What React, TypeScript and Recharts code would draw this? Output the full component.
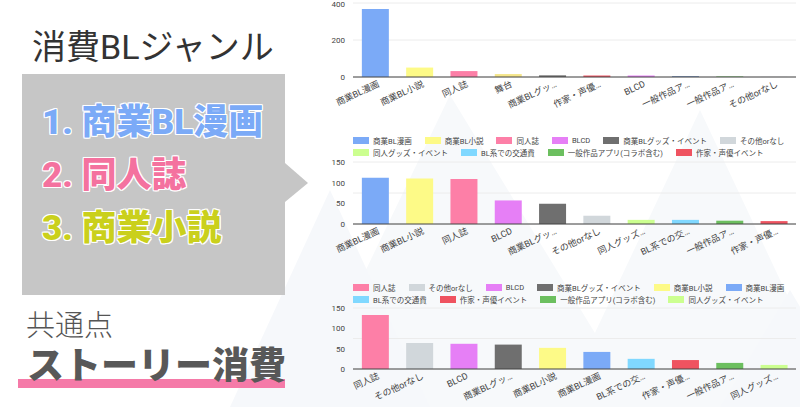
import React from 'react';
import { BarChart, Bar, Cell, XAxis, YAxis, CartesianGrid } from 'recharts';

const FONT = "Roboto, 'Noto Sans CJK JP', sans-serif";

// colours per answer
const colorOf: Record<string, string> = {
  商業BL漫画: '#7baaf7',
  商業BL小説: '#fdfa87',
  同人誌: '#fd7fa7',
  舞台: '#f5e68c',
  BLCD: '#e67ff6',
  商業BLグッズ・イベント: '#6f6f6f',
  その他orなし: '#d1d7db',
  同人グッズ・イベント: '#ccff90',
  BL系での交通費: '#80d8ff',
  '一般作品アプリ(コラボ含む)': '#6cbf5f',
  '一般作品アニメ': '#5b7db4',
  作家・声優イベント: '#ef5360',
};

// chart 1
const keys1 = ['商業BL漫画', '商業BL小説', '同人誌', '舞台', '商業BLグッズ・イベント', '作家・声優イベント', 'BLCD', '一般作品アニメ', '一般作品アプリ(コラボ含む)', 'その他orなし'];
const labels1 = ['商業BL漫画', '商業BL小説', '同人誌', '舞台', '商業BLグッ…', '作家・声優…', 'BLCD', '一般作品ア…', '一般作品ア…', 'その他orなし'];
const values1 = [368, 51, 32, 16, 9, 8, 8, 4, 3, 1];
const ticks1 = [0, 200, 400];
const grid1 = [0, 100, 200, 300, 400];

// chart 2
const keys2 = ['商業BL漫画', '商業BL小説', '同人誌', 'BLCD', '商業BLグッズ・イベント', 'その他orなし', '同人グッズ・イベント', 'BL系での交通費', '一般作品アプリ(コラボ含む)', '作家・声優イベント'];
const labels2 = ['商業BL漫画', '商業BL小説', '同人誌', 'BLCD', '商業BLグッ…', 'その他orなし', '同人グッズ…', 'BL系での交…', '一般作品ア…', '作家・声優…'];
const values2 = [112, 110, 109, 57, 49, 20, 10, 10, 8, 7];

// chart 3
const keys3 = ['同人誌', 'その他orなし', 'BLCD', '商業BLグッズ・イベント', '商業BL小説', '商業BL漫画', 'BL系での交通費', '作家・声優イベント', '一般作品アプリ(コラボ含む)', '同人グッズ・イベント'];
const labels3 = ['同人誌', 'その他orなし', 'BLCD', '商業BLグッ…', '商業BL小説', '商業BL漫画', 'BL系での交…', '作家・声優…', '一般作品ア…', '同人グッズ…'];
const values3 = [133, 64, 62, 60, 52, 42, 25, 22, 15, 10];

const ticks150 = [0, 50, 100, 150];
const grid150 = [0, 25, 50, 75, 100, 125, 150];

const AngledTick = (props: any) => {
  const { x, y, payload } = props;
  return (
    <g transform={`translate(${x + 2},${y})`}>
      <text transform="rotate(-25)" textAnchor="end" dy="0.75em" fontSize={9} fill="#444" fontFamily={FONT}>
        {payload.value}
      </text>
    </g>
  );
};

function SmallBars({ keys, labels, values, ticks, grid, max, top, height, marginTop }: any) {
  const data = labels.map((label: string, i: number) => ({ label, key: keys[i], value: values[i] }));
  return (
    <div style={{ position: 'absolute', left: 310, top }}>
      <BarChart width={490} height={height} data={data} margin={{ top: marginTop, right: 4, left: 0, bottom: 0 }} barCategoryGap="20%">
        <CartesianGrid vertical={false} stroke="#ececec" horizontalValues={grid} />
        <XAxis dataKey="label" interval={0} height={33} tickLine={false} tickSize={0} tickMargin={3}
          axisLine={{ stroke: '#444' }} tick={<AngledTick />} />
        <YAxis domain={[0, max]} ticks={ticks} width={43} axisLine={false} tickLine={false}
          tick={{ fontSize: 8, fill: '#444', fontFamily: FONT }} />
        <Bar dataKey="value" isAnimationActive={false}>
          {data.map((d: any, i: number) => (
            <Cell key={i} fill={colorOf[d.key]} />
          ))}
        </Bar>
      </BarChart>
    </div>
  );
}

function LegendRows({ rows, top }: { rows: string[][]; top: number }) {
  return (
    <div style={{ position: 'absolute', left: 353, top, fontFamily: FONT, fontSize: 7.5, color: '#444' }}>
      {rows.map((row, r) => (
        <div key={r} style={{ display: 'flex', gap: 13, height: 12, alignItems: 'center' }}>
          {row.map((k) => (
            <div key={k} style={{ display: 'flex', alignItems: 'center', whiteSpace: 'nowrap' }}>
              <span style={{ width: 16, height: 7, background: colorOf[k], marginRight: 4, display: 'inline-block' }} />
              {k}
            </div>
          ))}
        </div>
      ))}
    </div>
  );
}

const outline = '1px 0 #fff, -1px 0 #fff, 0 1px #fff, 0 -1px #fff, 1px 1px #fff, -1px -1px #fff, 1px -1px #fff, -1px 1px #fff';

export default function App() {
  return (
    <div style={{ position: 'absolute', left: 0, top: 0, width: 800, height: 407, overflow: 'hidden', background: '#fff', fontFamily: FONT }}>
      <svg width={800} height={407} style={{ position: 'absolute', left: 0, top: 0 }}>
        <polygon points="300,407 450,95 640,407" fill="#f7f9fb" />
        <polygon points="560,407 700,110 840,407" fill="#f7f9fb" />
        <polygon points="230,407 330,190 430,407" fill="#f6f8fb" />
        <polygon points="720,407 790,290 860,407" fill="#f6f8fb" />
      </svg>

      {/* left panel */}
      <div style={{ position: 'absolute', left: 32, top: 20, fontSize: 34, color: '#333', fontWeight: 400, whiteSpace: 'nowrap' }}>消費BLジャンル</div>
      <div style={{ position: 'absolute', left: 22, top: 74, width: 263, height: 221, background: '#c6c6c6' }} />
      <svg width={30} height={50} style={{ position: 'absolute', left: 284, top: 160 }}>
        <polygon points="1,3 24,23 1,42" fill="#c6c6c6" />
      </svg>
      <div style={{ position: 'absolute', left: 42, top: 93, fontSize: 35, fontWeight: 900, color: '#7baaf7', textShadow: outline, whiteSpace: 'nowrap' }}>1. 商業BL漫画</div>
      <div style={{ position: 'absolute', left: 42, top: 146, fontSize: 35, fontWeight: 900, color: '#f4729f', textShadow: outline, whiteSpace: 'nowrap' }}>2. 同人誌</div>
      <div style={{ position: 'absolute', left: 42, top: 199, fontSize: 35, fontWeight: 900, color: '#cad01c', textShadow: outline, whiteSpace: 'nowrap' }}>3. 商業小説</div>
      <div style={{ position: 'absolute', left: 26, top: 302, fontSize: 29, color: '#555', fontWeight: 300, whiteSpace: 'nowrap' }}>共通点</div>
      <div style={{ position: 'absolute', left: 18, top: 379, width: 267, height: 9, background: '#f57aa8' }} />
      <div style={{ position: 'absolute', left: 27, top: 336, fontSize: 37, fontWeight: 900, color: '#585858', whiteSpace: 'nowrap' }}>ストーリー消費</div>

      {/* charts */}
      <SmallBars keys={keys1} labels={labels1} values={values1} ticks={ticks1} grid={grid1} max={400} top={0} height={110} marginTop={3} />

      <LegendRows top={134} rows={[keys2.slice(0, 6), keys2.slice(6)]} />
      <SmallBars keys={keys2} labels={labels2} values={values2} ticks={ticks150} grid={grid150} max={150} top={150} height={107} marginTop={12} />

      <LegendRows top={281} rows={[keys3.slice(0, 6), keys3.slice(6)]} />
      <SmallBars keys={keys3} labels={labels3} values={values3} ticks={ticks150} grid={grid150} max={150} top={296} height={106} marginTop={12} />
    </div>
  );
}
